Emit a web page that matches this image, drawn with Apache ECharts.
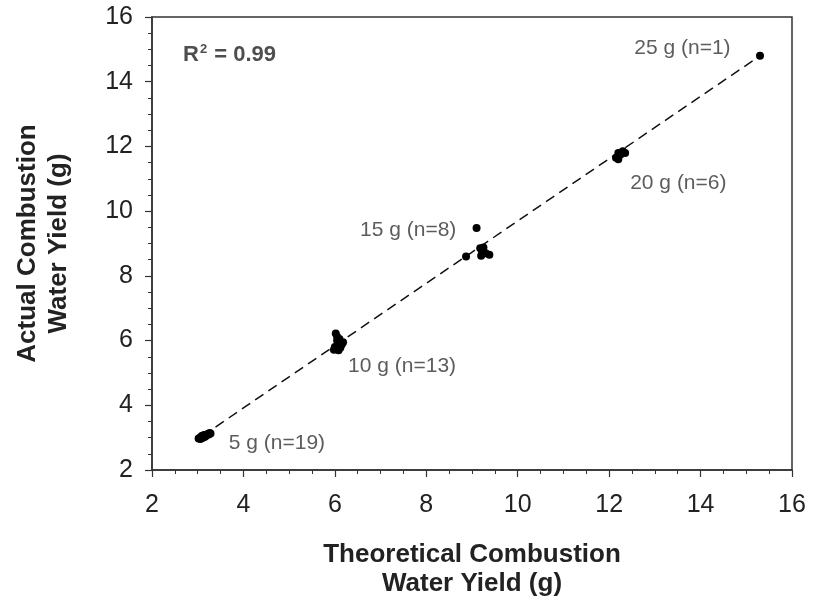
<!DOCTYPE html>
<html>
<head>
<meta charset="utf-8">
<script src="https://cdn.jsdelivr.net/npm/echarts@6/dist/echarts.min.js"></script>
<style>html,body{margin:0;padding:0;background:#fff}#c{width:818px;height:605px}</style>
</head>
<body>
<div id="c"></div>
<script>
// ---- data ----
const xTicks = [2, 4, 6, 8, 10, 12, 14, 16];
const yTicks = [2, 4, 6, 8, 10, 12, 14, 16];

const g5x  = [3.02,3.05,3.06,3.08,3.09,3.10,3.10,3.11,3.12,3.13,3.14,3.15,3.16,3.18,3.20,3.22,3.24,3.26,3.28];
const g5y  = [2.97,3.00,2.96,3.02,3.05,2.99,3.03,3.06,3.01,3.04,3.08,3.02,3.07,3.05,3.09,3.11,3.10,3.14,3.13];
const g10x = [5.98,6.00,6.02,6.03,6.05,6.06,6.08,6.10,6.12,6.15,6.18,6.05,6.10];
const g10y = [5.72,5.80,6.22,5.76,6.12,5.85,5.70,5.92,5.78,5.88,5.95,6.00,6.05];
const g15x = [9.10,8.87,9.18,9.25,9.22,9.30,9.20,9.38];
const g15y = [9.48,8.60,8.85,8.88,8.75,8.70,8.62,8.65];
const g20x = [12.15,12.20,12.25,12.30,12.20,12.35];
const g20y = [11.65,11.80,11.75,11.85,11.60,11.80];
const g25x = [15.30];
const g25y = [14.80];

const fitX = [3.10, 15.30];
const fitY = [3.05, 14.80];

const labelText = ['5 g (n=19)', '10 g (n=13)', '15 g (n=8)', '20 g (n=6)', '25 g (n=1)'];
const labelX = [3.68, 6.29, 6.55, 12.46, 12.55];
const labelY = [2.83, 5.21, 9.42, 10.87, 15.04];

const r2Text = 'R{sup|2} = 0.99';
const r2X = 2.68, r2Y = 14.82;

// ---- build ----
function pairs(xs, ys) { return xs.map((x, i) => [x, ys[i]]); }
const points = [].concat(pairs(g5x, g5y), pairs(g10x, g10y), pairs(g15x, g15y), pairs(g20x, g20y), pairs(g25x, g25y));

const FF = 'Liberation Sans, Arial, sans-serif';
const chart = echarts.init(document.getElementById('c'));
const axisCommon = {
  min: 2, max: 16, interval: 2,
  axisLine: { show: true, lineStyle: { color: '#333', width: 1.5 } },
  axisTick: { show: true, length: 7, lineStyle: { color: '#333', width: 1.2 } },
  minorTick: { show: true, splitNumber: 4, length: 4, lineStyle: { color: '#333', width: 1 } },
  splitLine: { show: false },
  axisLabel: { fontSize: 25, color: '#222', fontFamily: FF, margin: 13 },
  nameTextStyle: { fontSize: 26, fontWeight: 'bold', color: '#222', fontFamily: FF, lineHeight: 29 }
};
chart.setOption({
  animation: false,
  grid: { left: 152, right: 26, top: 17, bottom: 135, show: true, borderColor: '#333', borderWidth: 1.5 },
  xAxis: Object.assign({}, axisCommon, {
    type: 'value',
    name: 'Theoretical Combustion\nWater Yield (g)', nameLocation: 'middle', nameGap: 70,
    axisLabel: Object.assign({}, axisCommon.axisLabel, { margin: 23 })
  }),
  yAxis: Object.assign({}, axisCommon, {
    type: 'value',
    name: 'Actual Combustion\nWater Yield (g)', nameLocation: 'middle', nameGap: 78,
    axisLabel: Object.assign({}, axisCommon.axisLabel, { margin: 19 }),
    nameTextStyle: Object.assign({}, axisCommon.nameTextStyle, { lineHeight: 31 })
  }),
  series: [
    {
      type: 'line', data: pairs(fitX, fitY), symbol: 'none', silent: true,
      lineStyle: { color: '#111', width: 1.5, type: [10, 6] }, z: 1
    },
    {
      type: 'scatter', data: points, symbol: 'circle', symbolSize: 8,
      itemStyle: { color: '#000', opacity: 1 }, z: 3
    },
    {
      type: 'scatter', symbolSize: 0, silent: true,
      data: labelText.map((t, i) => ({ value: [labelX[i], labelY[i]], name: t })),
      label: { show: true, position: 'right', distance: 0, formatter: p => p.name,
        fontSize: 21, color: '#333', fontFamily: FF }
    },
    {
      type: 'scatter', symbolSize: 0, silent: true,
      data: [{ value: [r2X, r2Y], name: r2Text }],
      label: { show: true, position: 'right', distance: 0, formatter: p => p.name,
        fontSize: 22, fontWeight: 'bold', color: '#222', fontFamily: FF,
        rich: { sup: { fontSize: 13, fontWeight: 'bold', verticalAlign: 'top', padding: [0, 1, 12, 1], color: '#222' } } }
    }
  ]
});
</script>
</body>
</html>
